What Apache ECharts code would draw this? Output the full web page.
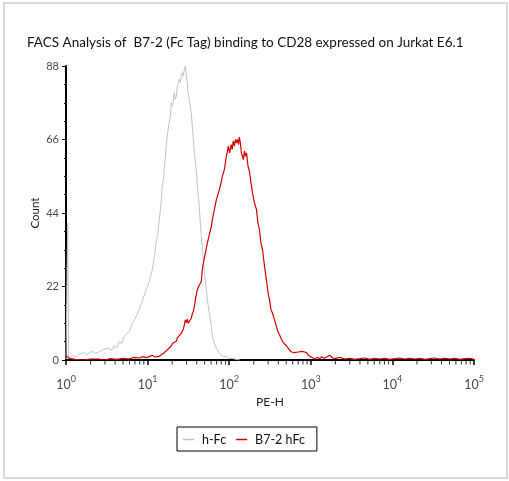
<!DOCTYPE html>
<html><head><meta charset="utf-8">
<script src="https://cdn.jsdelivr.net/npm/echarts@6/dist/echarts.min.js"></script>
<style>html,body{margin:0;padding:0;background:#fff}#c{width:509px;height:481px}</style>
</head><body><div id="c"></div>
<script>
const titleText = 'FACS Analysis of  B7-2 (Fc Tag) binding to CD28 expressed on Jurkat E6.1';
const seriesNames = ['h-Fc', 'B7-2 hFc'];
const yTicks = [0, 22, 44, 66, 88];
const xDecades = [1, 10, 100, 1000, 10000, 100000];
const xMinorTicks = [2,3,4,5,6,7,8,9,20,30,40,50,60,70,80,90,200,300,400,500,600,700,800,900,2000,3000,4000,5000,6000,7000,8000,9000,20000,30000,40000,50000,60000,70000,80000,90000];

// h-Fc (grey) : PE-H value, count
const hfcX = [1.0,1.05,1.08,1.2,1.33,1.45,1.66,1.8,2.09,2.3,2.54,2.9,3.38,3.6,3.89,4.2,4.48,4.8,5.16,5.5,5.94,6.4,6.84,7.3,7.88,8.3,8.83,9.61,10.5,11.4,12.3,12.8,13.4,13.9,14.5,15.1,15.6,16.0,16.5,16.9,17.6,18.4,19.0,19.5,20.2,21.2,21.8,22.5,23.1,24.4,25.2,25.9,26.6,27.4,28.2,29.0,29.8,30.6,31.5,32.4,33.3,34.3,35.3,36.3,37.4,38.5,39.5,40.6,41.8,43.0,44.2,45.5,46.8,48.2,49.6,52.5,54.0,57.1,60.4,62.2,65.8,69.6,75.8,82.5,92.4,100,109,120,135];
const hfcY = [0.3,41,0.5,1.4,0.9,1.8,2.2,1.5,2.6,2.0,2.4,3.2,3.6,2.8,4.2,3.6,5.6,5.0,7.0,7.8,8.6,10.5,12,13.2,15,16.5,18.5,21,23.5,27,32,36,38,42,46,52,54,57,61,64,68,71,73,77,76,80,78,79,82,84,83,85,86,85,87,88,85,83,80,78,76,74,70,66,62,59,57,52,49,46,41,37,34,30,26,21,18,14,10,7,5,3.5,2,1.2,0.9,0.4,0.5,0.2,0];

// B7-2 hFc (red) : PE-H value, count
const b72X = [1.0,1.03,1.1,1.3,1.6,2.0,2.5,3.0,3.5,4.2,5.0,5.9,6.8,7.9,8.8,9.6,10.5,11.4,12.3,13.9,15.1,16.0,16.9,18.4,19.5,20.2,21.2,22.5,23.1,24.4,25.9,26.6,27.4,28.2,29.0,29.8,30.6,31.5,32.4,33.3,34.3,35.3,36.3,37.4,38.5,39.5,40.6,41.8,43.0,45.5,46.8,48.2,49.6,52.5,54.0,57.1,60.4,62.2,65.8,69.6,71.6,75.8,80.2,82.5,87.3,92.4,95.0,97.7,101,106,109,112,116,119,122,126,130,133,137,141,145,149,154,158,163,170,177,185,193,204,210,216,225,235,245,256,271,286,300,312,326,340,359,380,395,414,432,451,477,505,525,549,581,605,633,669,700,728,780,839,888,930,967,1053,1130,1213,1290,1358,1450,1563,1700,1853,2000,2260,2600,3000,3400,3980,4600,5280,6000,7000,8000,9290,10700,12300,14000,16400,19000,21700,25000,28800,33000,38200,44000,50700,58000,67300,78000,89300,97200,100000];
const b72Y = [1.2,1.5,0.5,0.2,0,0.3,0.3,0,0.4,0.2,0.5,0.3,0.8,0.6,1.0,0.7,1.0,1.4,0.9,1.1,1.8,2.2,2.6,3.6,4.2,5.0,4.8,5.6,6.6,7.0,8.0,8.6,9.2,10.5,12,11.2,12.2,11,10.8,11.5,12.5,13.8,14.5,16,18,19.5,21,21.8,21.5,23.5,27,29,30.5,33.5,35,37.5,40,42,45,48,48.5,51,53.5,55,57,61,62.5,64,62,64.5,63,65.5,64,66,65,66,64.5,66.7,65,62,61,60,62.5,61,62,58,56.5,53,50,47,46,45,41,39,35,33,28,24,20,18,15,14,12,10,8.5,7.5,6.5,5.5,4.8,4.2,3.6,3.0,2.4,2.6,2.2,2.0,2.4,2.2,2.6,2.4,2.2,1.4,1.0,0.7,0.3,0.8,0.4,1.0,0.5,0.9,1.4,0.6,0.5,0.8,0.3,0.5,0.2,0.4,0.6,0.2,0.5,0.3,0.5,0.2,0.4,0.6,0.3,0.5,0.3,0.5,0.2,0.4,0.6,0.3,0.5,0.3,0.5,0.2,0.4,0.5,0.3,0.1];

const pair = (xs, ys) => xs.map((x, i) => [x, ys[i]]);
const labelColor = '#4a4a4a';
const font = 'Lato, "Open Sans", sans-serif';

const chart = echarts.init(document.getElementById('c'), null, {renderer: 'canvas'});
chart.setOption({
  animation: false,
  backgroundColor: '#fff',
  textStyle: {fontFamily: font},
  graphic: [{type: 'rect', shape: {x: 4, y: 3, width: 503, height: 475}, style: {fill: 'none', stroke: '#d9d9d9', lineWidth: 2}, silent: true}],
  title: {text: titleText, left: 22, top: 31, textStyle: {fontSize: 13.5, fontWeight: 'normal', color: '#111', fontFamily: font}},
  grid: {left: 66, right: 35, top: 66, bottom: 121, containLabel: false},
  legend: {
    data: seriesNames.map(n => ({name: n, icon: 'rect'})), left: 177, top: 427, orient: 'horizontal',
    borderColor: '#000', borderWidth: 1, padding: [6, 12, 5, 6], itemGap: 10,
    itemWidth: 11, itemHeight: 1.5,
    textStyle: {fontSize: 12.5, color: '#111', fontFamily: font, padding: [0, 0, 0, 3]}
  },
  xAxis: {
    type: 'log', logBase: 10, min: xDecades[0], max: xDecades[xDecades.length - 1],
    name: 'PE-H', nameLocation: 'middle', nameGap: 36, nameMoveOverlap: false,
    nameTextStyle: {fontSize: 12, color: '#222', fontFamily: font},
    axisLine: {show: true, onZero: false, lineStyle: {color: '#000', width: 2}},
    axisTick: {show: true, inside: false, length: 5, lineStyle: {color: '#000', width: 1.5}},
    splitLine: {show: false},
    axisLabel: {
      margin: 15,
      formatter: v => '{b|10}{s|' + Math.round(Math.log10(v)) + '}',
      rich: {
        b: {fontSize: 12.5, color: labelColor, fontFamily: font, verticalAlign: 'bottom', lineHeight: 16},
        s: {fontSize: 9, color: labelColor, fontFamily: font, verticalAlign: 'top', lineHeight: 16}
      }
    }
  },
  yAxis: {
    type: 'value', min: yTicks[0], max: yTicks[yTicks.length - 1], interval: 22,
    name: 'Count', nameLocation: 'middle', nameGap: 25, nameMoveOverlap: false,
    nameTextStyle: {fontSize: 11.5, color: '#222', fontFamily: font},
    axisLine: {show: true, lineStyle: {color: '#000', width: 2}},
    axisTick: {show: true, length: 4, lineStyle: {color: '#000'}},
    minorTick: {show: true, splitNumber: 4, length: 2, lineStyle: {color: '#000'}},
    splitLine: {show: false},
    axisLabel: {fontSize: 11, color: labelColor, margin: 7, fontFamily: font}
  },
  series: [{
    name: seriesNames[0], type: 'line', data: pair(hfcX, hfcY), symbol: 'none',
    lineStyle: {color: '#c3c3c3', width: 1}, itemStyle: {color: '#c3c3c3'}, z: 3
  }, {
    name: seriesNames[1], type: 'line', data: pair(b72X, b72Y), symbol: 'none',
    lineStyle: {color: '#d40000', width: 1.2}, itemStyle: {color: '#d40000'}, z: 4
  }, {
    name: 'minor ticks', type: 'scatter', data: xMinorTicks.map(v => [v, 0]),
    symbol: 'rect', symbolSize: [1, 3.5], symbolOffset: [0, 2.8],
    itemStyle: {color: '#000'}, clip: false, silent: true, z: 1
  }]
});
</script></body></html>
